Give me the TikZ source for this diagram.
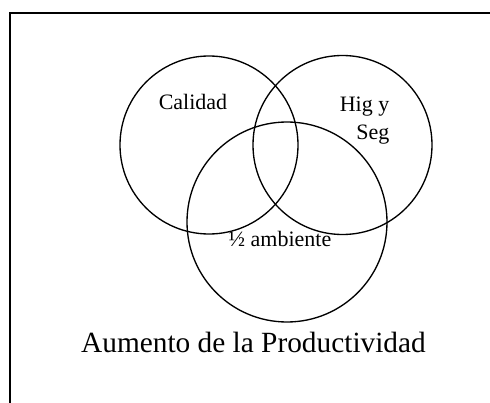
\documentclass[tikz,border=0pt]{standalone}
\usepackage{fontspec}
\setmainfont{Liberation Serif}
\usepackage{tikz}

\tikzset{
  vennlabel/.style={inner sep=0.75pt, font=\fontsize{16.5}{21}\selectfont},
  titlelabel/.style={inner sep=0.75pt, font=\fontsize{22}{26}\selectfont}
}

\begin{document}
\begin{tikzpicture}[x=0.75pt,y=0.75pt,yscale=-1,xscale=1,line width=1pt]
\useasboundingbox (0,0) rectangle (490,403);

%Shape: Frame (cut at the page edge)
\draw (10,403) -- (10,13) -- (490,13) ;

%Shape: Circle [Calidad]
\coordinate (cal) at (209,145);
\draw (cal) circle (89);
%Shape: Circle [Hig y Seg]
\coordinate (hig) at (342.5,145);
\draw (hig) circle (89.5);
%Shape: Circle [ambiente]
\coordinate (amb) at (287,222);
\draw (amb) circle (100);

% Text Node
\node (calidad) [vennlabel, anchor=base] at (193,110) {Calidad};
% Text Node
\node (higseg) [vennlabel, anchor=north east, align=right] at (391,95) {Hig y\\Seg};
% Text Node
\node (ambiente) [vennlabel, anchor=base] at (280,247) {½ ambiente};
% Text Node
\node (titulo) [titlelabel, anchor=base] at (253.5,353) {Aumento de la Productividad};
\end{tikzpicture}
\end{document}
